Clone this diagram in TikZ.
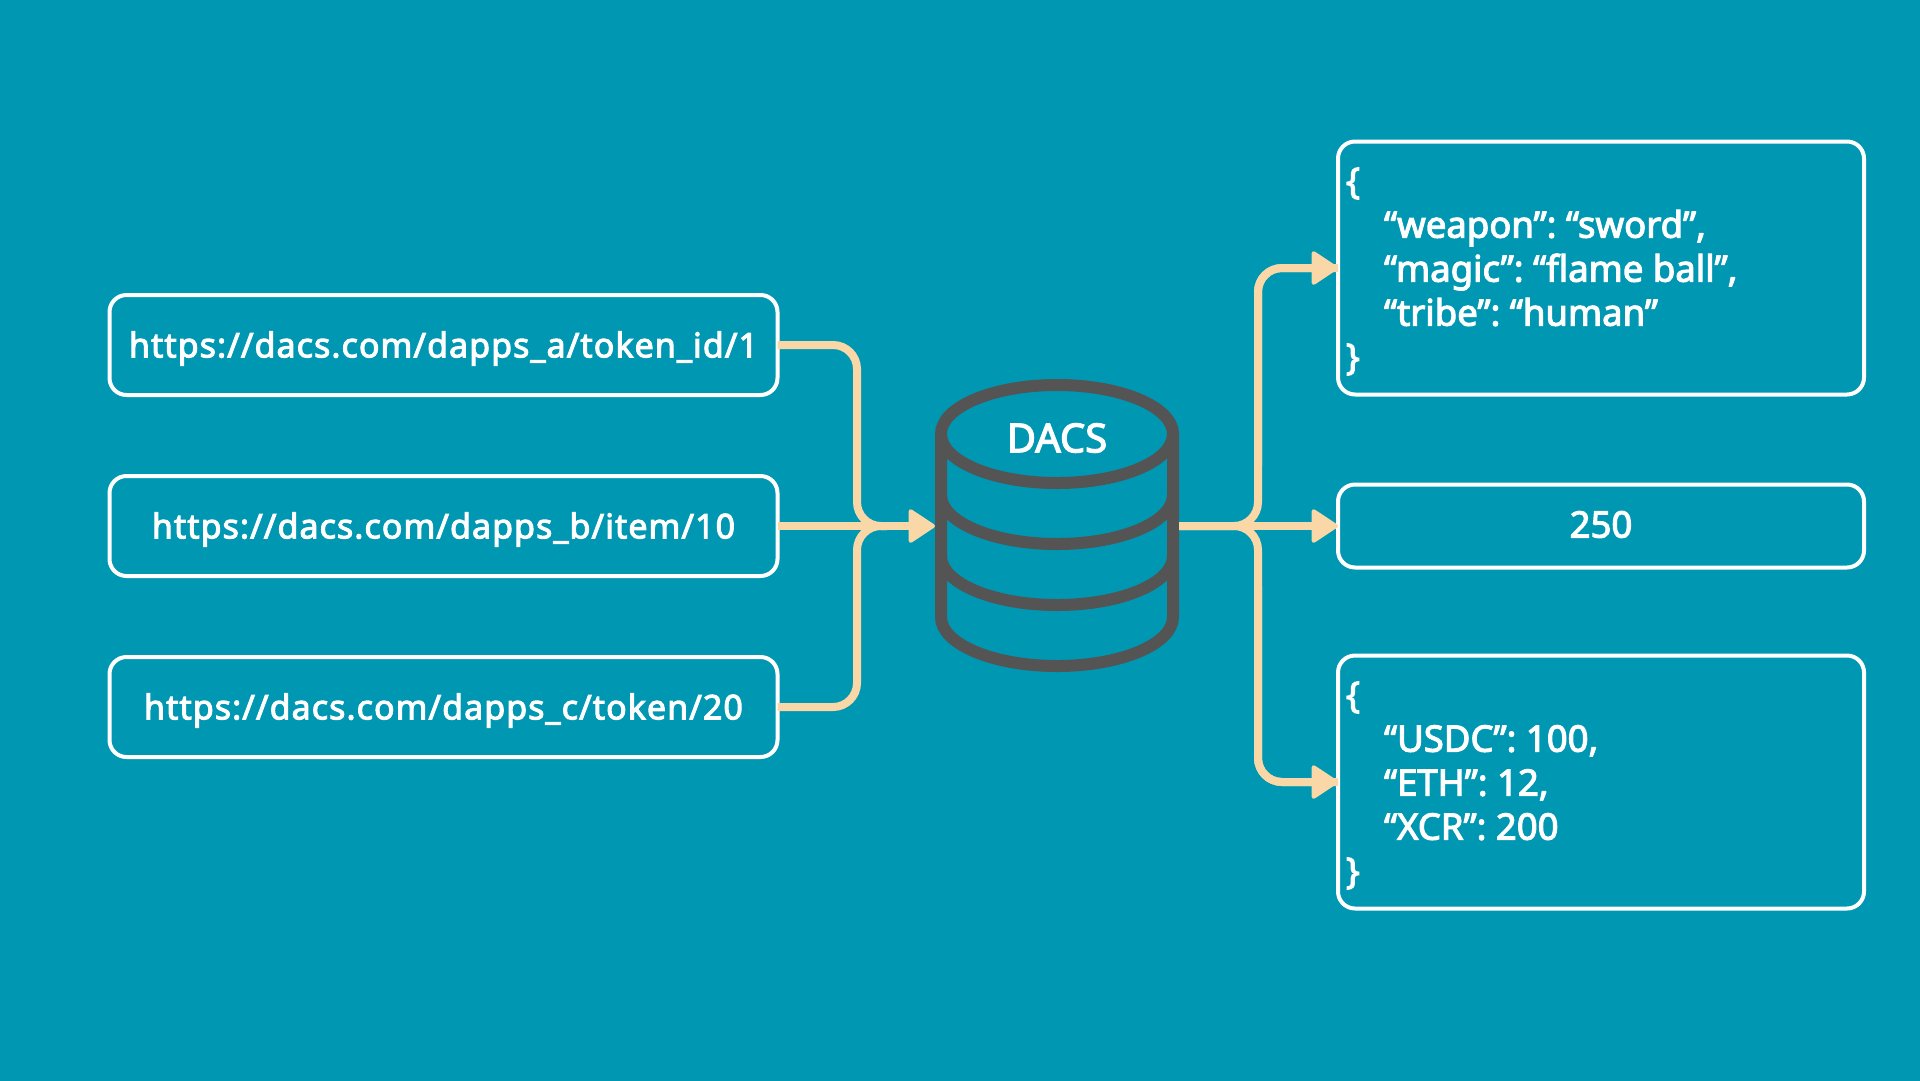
\documentclass[tikz,border=0pt]{standalone}
\usepackage{fontspec}
\setmainfont[FakeBold=3,Ligatures=NoCommon]{Noto Sans}
\newfontfamily\urlfont[FakeBold=3,LetterSpace=3.1,Ligatures=NoCommon]{Noto Sans}
\usetikzlibrary{arrows.meta}
\definecolor{bgteal}{HTML}{0097B2}
\definecolor{dbgray}{HTML}{545454}
\definecolor{cream}{HTML}{F9D7A6}
\newcommand{\blocktext}[1]{\raisebox{-3.5pt}[\height][\depth]{\parbox{510pt}{#1}}}
\newcommand{\linetext}[1]{\raisebox{-3.5pt}[\height][\depth]{#1}}
\tikzset{
  box/.style={draw=white,line width=4pt,rounded corners=17pt,text=white,inner sep=0pt,outer sep=0pt,font=\frenchspacing\fontsize{36.5}{44}\selectfont},
  urlbox/.style={box,minimum width=668pt,minimum height=100pt,font=\urlfont\fontsize{34}{44}\selectfont},
  jsonbox/.style={box,minimum width=526pt},
  link/.style={cream,line width=8pt,rounded corners=24pt},
  linkarrow/.style={link,-{Triangle[length=28pt,width=36pt,round,line width=4pt]}},
  dbline/.style={dbgray,line width=12pt},
}
\begin{document}
\begin{tikzpicture}[x=1pt,y=-1pt]
\useasboundingbox (0,0) rectangle (1920,1080);
\fill[bgteal] (-5,-5) rectangle (1925,1085);
% boxes
\node[urlbox] (ua) at (443.5,345) {\linetext{https://dacs.com/dapps\_a/token\_id/1}};
\node[urlbox] (ub) at (443.5,526) {\linetext{https://dacs.com/dapps\_b/item/10}};
\node[urlbox] (uc) at (443.5,707) {\linetext{https://dacs.com/dapps\_c/token/20}};
\node[jsonbox,minimum height=253pt] (ra) at (1601,268) {\blocktext{\{\\\hspace*{38pt}“weapon”: “sword”,\\\hspace*{38pt}“magic”: “flame ball”,\\\hspace*{38pt}“tribe”: “human”\\\}}};
\node[box,minimum width=526pt,minimum height=83pt] (rb) at (1601,526) {\raisebox{1.5pt}[\height][\depth]{250}};
\node[jsonbox,minimum height=253pt] (rc) at (1601,782) {\blocktext{\{\\\hspace*{38pt}“USDC”: 100,\\\hspace*{38pt}“ETH”: 12,\\\hspace*{38pt}“XCR”: 200\\\}}};
% database
\node[minimum width=244pt,minimum height=293pt,inner sep=0pt,outer sep=0pt] (db) at (1057,526) {};
\coordinate (jl) at (857,526);
\coordinate (jr) at (1258,526);
\draw[dbline] (1057,434) ellipse [x radius=116pt,y radius=49pt];
\draw[dbline] (941,434) -- (941,617) arc [start angle=180,end angle=360,x radius=116pt,y radius=49pt] -- (1173,434);
\draw[dbline] (941,495) arc [start angle=180,end angle=360,x radius=116pt,y radius=49pt];
\draw[dbline] (941,556) arc [start angle=180,end angle=360,x radius=116pt,y radius=49pt];
\node[text=white,font=\fontsize{40}{44}\selectfont,inner sep=0pt] (dl) at (1057,438) {DACS};
% connectors
\draw[link] (ua.east) -| (jl) -- ++(30,0);
\draw[link] (uc.east) -| (jl) -- ++(30,0);
\draw[linkarrow] (ub.east) -- (db.west);
\draw[link] (db.east) -- (jr) |- (ra.west);
\draw[link] (db.east) -- (jr) |- (rc.west);
\draw[linkarrow] (db.east) -- (rb.west);
\draw[linkarrow] (jr) ++(0,-60) -- (jr |- ra.west) -- (ra.west);
\draw[linkarrow] (jr) ++(0,60) -- (jr |- rc.west) -- (rc.west);
\end{tikzpicture}
\end{document}
